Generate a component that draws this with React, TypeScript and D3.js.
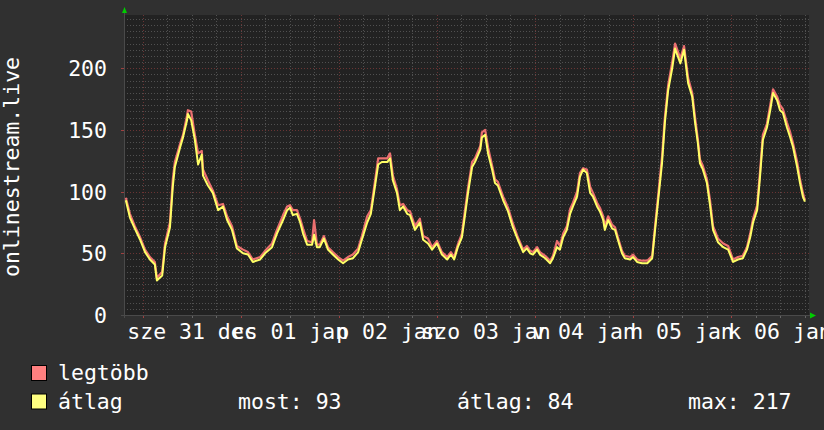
import { scaleLinear, scaleTime, line, curveLinear, timeHour, timeDay, range } from 'd3'

// hours after 2014-12-31 00:00 (local)
const hours = [
  -4.2, -3.2, -2.0, -0.7, 0.5, 1.7, 2.9, 3.4, 4.7, 5.4, 6.6, 7.3, 7.8, 9.1, 9.8, 10.8, 11.0, 11.8, 12.7, 13.5,
  14.4, 14.7, 15.9, 17.1, 18.4, 19.6, 20.6, 21.8, 23.0, 24.5, 25.7, 26.9, 28.7, 29.9, 31.6, 32.8, 34.3, 35.3, 36.0, 36.7,
  37.7, 38.5, 39.2, 40.2, 41.4, 41.9, 42.6, 43.3, 44.3, 45.3, 46.5, 47.8, 49.0, 50.2, 51.4, 52.7, 53.6, 54.9, 55.8, 56.8,
  57.6, 58.5, 59.8, 60.5, 61.2, 62.2, 62.9, 63.7, 64.7, 65.4, 66.6, 67.8, 68.6, 69.8, 70.8, 72.0, 73.2, 74.5, 75.4, 76.2,
  77.1, 78.1, 78.9, 79.6, 80.6, 81.3, 82.6, 83.0, 83.8, 84.5, 85.5, 86.2, 86.9, 88.2, 89.4, 90.6, 91.8, 93.1, 94.0, 94.8,
  95.5, 96.5, 97.2, 98.5, 99.7, 100.4, 101.4, 102.1, 102.9, 103.8, 104.6, 105.3, 106.3, 107.0, 107.8, 108.7, 109.5, 110.2, 111.2, 111.9,
  112.7, 113.1, 113.9, 114.9, 115.6, 116.3, 117.3, 118.0, 119.3, 120.0, 121.0, 122.2, 123.5, 124.7, 125.4, 126.1, 127.1, 127.8, 128.6, 129.6,
  130.3, 131.6, 132.5, 133.5, 134.5, 135.2, 135.9, 136.4, 137.1, 138.1, 138.9, 139.6, 140.8, 142.1, 143.3, 144.5, 145.7, 146.9, 147.9, 148.7,
  149.4, 150.4, 151.1, 151.8, 152.8, 153.6, 154.3, 155.3, 156.0, 156.7, 157.7, 158.5, 159.2, 160.2, 160.9, 161.6, 162.1,
]

// átlag
const avgValues = [
  93, 79, 70, 61, 51, 45, 41, 28, 32, 55, 71, 104, 120, 136, 144, 158, 163, 158, 142, 122,
  130, 113, 105, 99, 85, 88, 77, 69, 54, 50, 49, 43, 45, 50, 55, 66, 77, 85, 87, 81,
  82, 75, 66, 57, 57, 65, 55, 55, 62, 53, 49, 45, 42, 45, 46, 51, 61, 75, 82, 104,
  122, 124, 124, 127, 109, 99, 85, 88, 82, 81, 69, 75, 61, 58, 53, 58, 49, 45, 49, 45,
  55, 63, 82, 99, 120, 124, 134, 144, 146, 131, 118, 107, 105, 93, 84, 71, 61, 51, 54, 50,
  49, 53, 49, 46, 42, 46, 55, 53, 63, 69, 82, 88, 96, 112, 118, 115, 99, 96, 88, 84,
  77, 69, 77, 70, 69, 61, 50, 46, 45, 47, 43, 42, 42, 46, 69, 91, 123, 156, 182, 200,
  216, 204, 215, 188, 177, 156, 139, 123, 118, 107, 88, 69, 59, 55, 53, 43, 45, 46, 53, 63,
  75, 85, 112, 142, 152, 166, 180, 174, 166, 164, 152, 144, 136, 120, 107, 96, 92,
]

// legtöbb
const maxValues = [
  95, 82, 72, 63, 53, 47, 43, 30, 35, 58, 75, 110, 124, 139, 146, 162, 166, 165, 146, 131,
  133, 118, 109, 101, 89, 90, 80, 72, 56, 53, 51, 45, 47, 52, 58, 69, 81, 88, 89, 85,
  85, 78, 70, 60, 59, 77, 57, 57, 64, 55, 51, 47, 44, 47, 49, 54, 64, 80, 85, 108,
  127, 127, 127, 131, 113, 102, 89, 90, 85, 84, 72, 78, 64, 62, 55, 60, 51, 47, 51, 47,
  57, 66, 86, 103, 124, 127, 137, 148, 150, 136, 121, 110, 108, 96, 87, 74, 63, 53, 56, 52,
  51, 55, 51, 48, 44, 48, 60, 56, 66, 72, 86, 91, 100, 115, 119, 118, 104, 99, 91, 87,
  80, 72, 80, 73, 71, 63, 52, 48, 47, 49, 45, 44, 44, 48, 72, 95, 128, 160, 186, 205,
  220, 208, 218, 192, 180, 160, 142, 126, 121, 110, 92, 72, 62, 58, 56, 45, 47, 48, 55, 66,
  78, 89, 116, 146, 155, 170, 183, 177, 170, 167, 156, 148, 139, 124, 110, 99, 93,
]

const dayLabels = ['sze 31 dec', 'cs 01 jan', 'p 02 jan', 'szo 03 jan', 'v 04 jan', 'h 05 jan', 'k 06 jan']
const yTickValues = [0, 50, 100, 150, 200]
const axisTitle = 'onlinestream.live'
const legendNames = ['legtöbb', 'átlag']
const legendColors = ['#ff8080', '#ffff80']
const summaryLabels = ['most: 93', 'átlag: 84', 'max: 217']

const width = 824
const height = 430
const plot = { left: 124, right: 809, top: 15, bottom: 315 }
const font = '"DejaVu Sans Mono", monospace'
const fontSize = 21.5

const start = new Date(2014, 11, 31)
const at = (h: number) => new Date(start.getTime() + h * 3600000)

export default function App() {
  const x = scaleTime().domain([at(-4.65), at(163.1)]).range([plot.left, plot.right])
  const y = scaleLinear().domain([0, 243.2]).range([plot.bottom, plot.top])

  const [t0, t1] = x.domain()
  const minorX = timeHour.every(6)!.range(t0, t1)
  const days = timeDay.range(t0, t1)
  const minorY = range(5, 245, 5)

  const seriesLine = line<number>()
    .x((_, i) => x(at(hours[i])))
    .y((v) => y(v))
    .curve(curveLinear)

  return (
    <svg
      width={width}
      height={height}
      style={{ position: 'absolute', left: 0, top: 0, background: '#303030' }}
      fontFamily={font}
    >
      <rect x={plot.left} y={plot.top} width={plot.right - plot.left} height={plot.bottom - plot.top} fill="#222" />

      <g shapeRendering="crispEdges">
        {minorY.map((v) => (
          <line
            key={`hy${v}`}
            x1={plot.left}
            x2={plot.right}
            y1={Math.round(y(v)) + 0.5}
            y2={Math.round(y(v)) + 0.5}
            stroke={v % 50 === 0 ? '#6a3434' : '#505050'}
            strokeDasharray="1,2"
          />
        ))}
        {minorX.map((d) => {
          const major = d.getHours() === 0
          const px = Math.round(x(d)) + 0.5
          return (
            <g key={`vx${d.getTime()}`}>
              <line x1={px} x2={px} y1={plot.top} y2={plot.bottom} stroke={major ? '#6a3434' : '#505050'} strokeDasharray="1,2" />
              <line x1={px} x2={px} y1={plot.bottom} y2={plot.bottom + 3} stroke={major ? '#a04040' : '#666'} />
            </g>
          )
        })}
        {yTickValues.map((v) => (
          <line key={`ty${v}`} x1={plot.left - 3} x2={plot.left} y1={Math.round(y(v)) + 0.5} y2={Math.round(y(v)) + 0.5} stroke="#a04040" />
        ))}
        <line x1={plot.left - 3} x2={plot.right + 2} y1={plot.bottom + 0.5} y2={plot.bottom + 0.5} stroke="#4a4a4a" />
        <line x1={plot.left + 0.5} x2={plot.left + 0.5} y1={plot.top - 4} y2={plot.bottom + 3} stroke="#4a4a4a" />
      </g>
      <path d={`M${plot.left - 2},${plot.top - 2} L${plot.left + 3},${plot.top - 2} L${plot.left + 0.5},${plot.top - 8} Z`} fill="#00cc00" />
      <path d={`M${plot.right + 1},${plot.bottom - 2.5} L${plot.right + 1},${plot.bottom + 3.5} L${plot.right + 7},${plot.bottom + 0.5} Z`} fill="#00cc00" />

      <path d={seriesLine(maxValues) ?? ''} fill="none" stroke="#ec7070" strokeWidth={2.2} strokeLinejoin="round" />
      <path d={seriesLine(avgValues) ?? ''} fill="none" stroke="#ffff66" strokeWidth={2} strokeLinejoin="round" />

      <g fill="#fff" fontSize={fontSize}>
        {yTickValues.map((v) => (
          <text key={`yl${v}`} x={107} y={y(v) + 8} textAnchor="end">
            {v}
          </text>
        ))}
        {days.map((d, i) =>
          dayLabels[i] ? (
            <text key={`xl${i}`} x={x(new Date(d.getTime() + 12 * 3600000))} y={339} textAnchor="middle">
              {dayLabels[i]}
            </text>
          ) : null,
        )}
        <text transform="translate(18.5,167) rotate(-90)" textAnchor="middle">
          {axisTitle}
        </text>

        {legendNames.map((name, i) => (
          <g key={name} transform={`translate(0, ${i * 28.5})`}>
            <rect x={31.5} y={365.5} width={15} height={15} fill={legendColors[i]} stroke="#000" />
            <text x={58} y={380}>
              {name}
            </text>
          </g>
        ))}
        {summaryLabels.map((label, i) => (
          <text key={label} x={[238, 457, 688][i]} y={408.5}>
            {label}
          </text>
        ))}
      </g>
    </svg>
  )
}
